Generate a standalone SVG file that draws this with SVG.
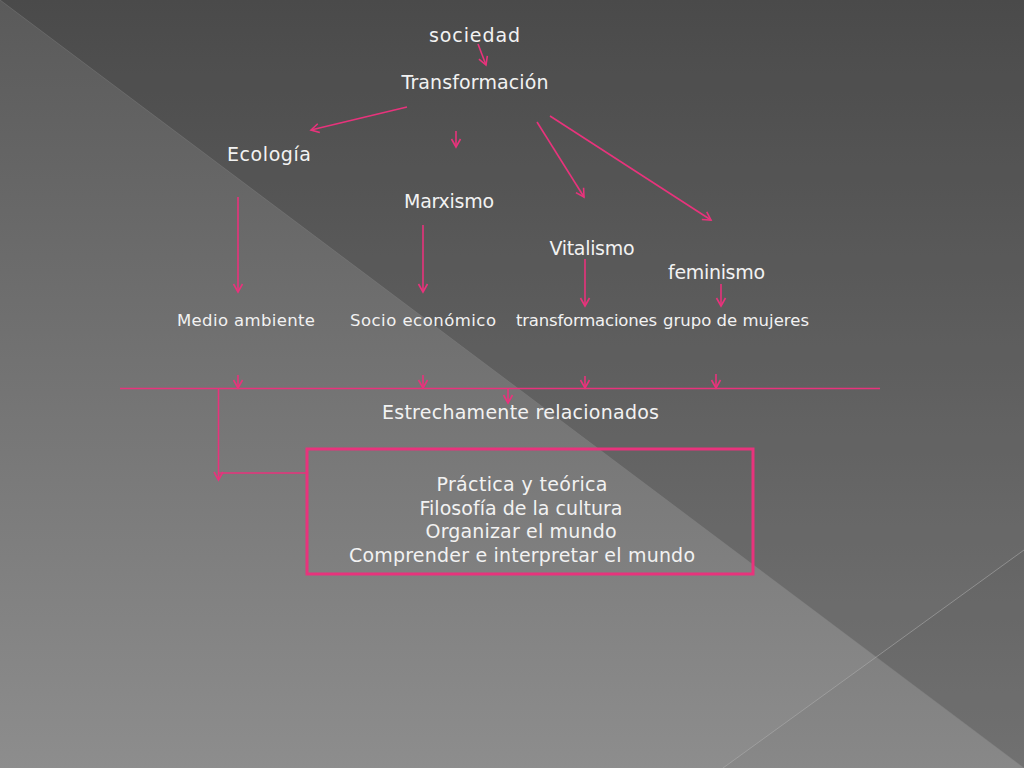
<svg xmlns="http://www.w3.org/2000/svg" width="1024" height="768" viewBox="0 0 1024 768">
<defs>
<linearGradient id="bg" x1="0" y1="0" x2="0" y2="1">
<stop offset="0" stop-color="#5a5a5a"/>
<stop offset="1" stop-color="#8d8d8d"/>
</linearGradient>
<marker id="ah" viewBox="0 0 12 12" refX="10" refY="6" markerWidth="12" markerHeight="12" markerUnits="userSpaceOnUse" orient="auto">
<path d="M2,1.5 L10,6 L2,10.5" fill="none" stroke="#e8337c" stroke-width="1.6"/>
</marker>
<style>
.t{font-family:"DejaVu Sans","Liberation Sans",sans-serif;fill:#f2f2f2;text-anchor:middle;font-size:19px}
.s{font-size:16.5px}
.c{fill:none;stroke:#e8337c;stroke-width:1.6}
.a{marker-end:url(#ah)}
</style>
</defs>
<rect width="1024" height="768" fill="url(#bg)"/>
<polygon points="0,0 1024,0 1024,768" fill="#000" opacity="0.17"/>
<line x1="0" y1="0" x2="1024" y2="768" stroke="#8a8a8a" stroke-width="1" opacity="0.35"/>
<polygon points="1024,550 723,768 1024,768" fill="#000" opacity="0.03"/>
<line x1="1024" y1="550" x2="723" y2="768" stroke="#b0b0b0" stroke-width="1" opacity="0.55"/>

<g id="connectors">
<line class="c a" x1="478" y1="44" x2="486" y2="65"/>
<line class="c a" x1="407" y1="107" x2="311" y2="130"/>
<line class="c a" x1="456" y1="131" x2="456" y2="147"/>
<line class="c a" x1="537" y1="122" x2="584" y2="197"/>
<line class="c a" x1="550" y1="116" x2="711" y2="220"/>
<line class="c a" x1="238" y1="197" x2="238" y2="292"/>
<line class="c a" x1="423" y1="225" x2="423" y2="292"/>
<line class="c a" x1="585" y1="259" x2="585" y2="306"/>
<line class="c a" x1="721" y1="284" x2="721" y2="306"/>
<line class="c" x1="120" y1="388.5" x2="880" y2="388.5"/>
<line class="c a" x1="238" y1="375" x2="238" y2="388"/>
<line class="c a" x1="423" y1="375" x2="423" y2="388"/>
<line class="c a" x1="585" y1="376" x2="585" y2="388"/>
<line class="c a" x1="716" y1="374" x2="716" y2="388"/>
<line class="c a" x1="508" y1="389" x2="508" y2="403"/>
<polyline class="c" points="307,473 218.5,473"/>
<line class="c a" x1="218.5" y1="389" x2="218.5" y2="480"/>
</g>

<g id="sociedad"><text class="t" x="474.5" y="42" textLength="91">sociedad</text></g>
<g id="transformacion"><text class="t" x="475" y="89" textLength="147">Transformación</text></g>
<g id="ecologia"><text class="t" x="269" y="161" textLength="84">Ecología</text></g>
<g id="marxismo"><text class="t" x="449" y="208" textLength="90">Marxismo</text></g>
<g id="vitalismo"><text class="t" x="592" y="255" textLength="85">Vitalismo</text></g>
<g id="feminismo"><text class="t" x="716.5" y="279" textLength="97">feminismo</text></g>
<g id="medio"><text class="t s" x="246" y="326" textLength="138">Medio ambiente</text></g>
<g id="socio"><text class="t s" x="423" y="326" textLength="146">Socio económico</text></g>
<g id="transformaciones"><text class="t s" x="586.5" y="326" textLength="141">transformaciones</text></g>
<g id="grupo"><text class="t s" x="736" y="326" textLength="146">grupo de mujeres</text></g>
<g id="estrechamente"><text class="t" x="520.5" y="419" textLength="277">Estrechamente relacionados</text></g>
<g id="caja">
<rect x="307" y="449" width="446" height="125" fill="none" stroke="#e8337c" stroke-width="3"/>
<text class="t" x="522" y="491" textLength="171">Práctica y teórica</text>
<text class="t" x="521" y="515" textLength="203">Filosofía de la cultura</text>
<text class="t" x="521" y="538" textLength="191">Organizar el mundo</text>
<text class="t" x="522" y="562" textLength="346">Comprender e interpretar el mundo</text>
</g>
</svg>
